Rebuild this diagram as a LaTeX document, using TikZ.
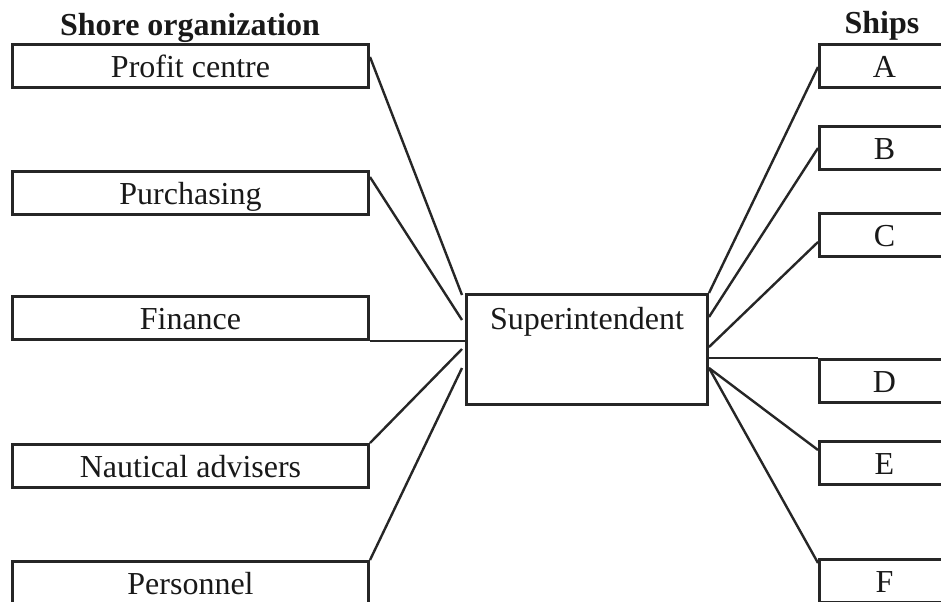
\documentclass[tikz,border=0pt]{standalone}
\usepackage{fontspec}
\setmainfont{Liberation Serif}
\begin{document}
\begin{tikzpicture}[x=0.5pt,y=-0.5pt,
    every node/.style={font=\fontsize{16}{19}\selectfont,text=black!90},
    dept/.style={draw=black!85,line width=1.5pt,anchor=north west,
        minimum width=178pt,inner xsep=0pt,inner ysep=0pt,
        text height=16.5pt,text depth=5pt},
    ship/.style={dept,minimum width=65pt},
    link/.style={draw=black!85,line width=1.2pt}]
    \useasboundingbox (0,0) rectangle (941,601);
    \clip (0,0) rectangle (941,601);
    \fill[white] (0,0) rectangle (941,601);
    % column headings
    \node[font=\fontsize{16}{19}\selectfont\bfseries,anchor=base] (shore) at (190,35) {Shore organization};
    \node[font=\fontsize{16}{19}\selectfont\bfseries,anchor=base] (ships) at (882,33) {Ships};
    % shore departments
    \node[dept] (profit) at (11,43) {Profit centre};
    \node[dept] (purch) at (11,170) {Purchasing};
    \node[dept] (fin) at (11,295) {Finance};
    \node[dept] (naut) at (11,443) {Nautical advisers};
    \node[dept] (pers) at (11,560) {Personnel};
    % superintendent
    \node[draw=black!85,line width=1.5pt,anchor=north west,inner sep=0pt,
        minimum width=120.5pt,text height=17.5pt,text depth=37.5pt] (sup) at (465,293) {Superintendent};
    % ships
    \node[ship] (shipA) at (818,43) {A};
    \node[ship] (shipB) at (818,125) {B};
    \node[ship] (shipC) at (818,212) {C};
    \node[ship] (shipD) at (818,358) {D};
    \node[ship] (shipE) at (818,440) {E};
    \node[ship] (shipF) at (818,558) {F};
    % shore side links
    \draw[link] ([yshift=-7pt]profit.north east) -- ([xshift=-1.5pt,yshift=-1pt]sup.north west);
    \draw[link] ([yshift=-3.5pt]purch.north east) -- ([xshift=-1.5pt,yshift=-13.5pt]sup.north west);
    \draw[link] (fin.south east) -- (fin.south east -| sup.west);
    \draw[link] (naut.north east) -- ([xshift=-1.5pt,yshift=-28pt]sup.north west);
    \draw[link] (pers.north east) -- ([xshift=-1.5pt,yshift=-37.5pt]sup.north west);
    % ship side links
    \draw[link] (sup.north east) -- ([yshift=-12pt]shipA.north west);
    \draw[link] ([yshift=-12pt]sup.north east) -- ([yshift=-11.5pt]shipB.north west);
    \draw[link] ([yshift=-27pt]sup.north east) -- ([yshift=-15pt]shipC.north west);
    \draw[link] (shipD.north west -| sup.east) -- (shipD.north west);
    \draw[link] ([yshift=-37.5pt]sup.north east) -- ([yshift=-5pt]shipE.north west);
    \draw[link] ([yshift=-37.5pt]sup.north east) -- ([yshift=-2.5pt]shipF.north west);
\end{tikzpicture}
\end{document}
